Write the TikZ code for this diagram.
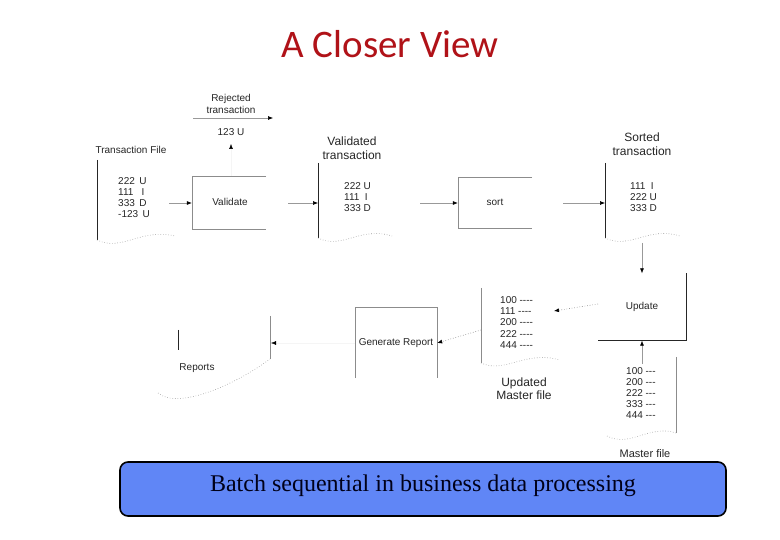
\documentclass[tikz,border=0pt]{standalone}
\usepackage{fontspec}
\setmainfont{Liberation Serif}
\newfontfamily\arialf{Liberation Sans}
\newfontfamily\calibri{Carlito}
\usetikzlibrary{arrows.meta}
\definecolor{titlered}{RGB}{176,18,24}
\definecolor{bandblue}{RGB}{96,134,246}
\tikzset{
  lbl/.style={font=\arialf\fontsize{10}{11}\selectfont, inner sep=0pt, text=black!85},
  biglbl/.style={font=\arialf\fontsize{12}{13.5}\selectfont, inner sep=0pt, align=center, text=black!85},
  datatxt/.style={font=\arialf\fontsize{10}{11.2}\selectfont, inner sep=0pt, align=left, anchor=west, text=black!85},
  boxarea/.style={inner sep=0pt, draw=none},
  edge/.style={draw=black!45, line width=0.6pt},
  darkedge/.style={draw=black!85, line width=0.9pt},
  wave/.style={draw=black!40, line width=0.6pt, dotted},
  arr/.style={draw=black!40, line width=0.6pt, -{Latex[length=5pt,width=4pt,black]}},
  ghostarr/.style={draw=black!4, line width=0.5pt, -{Latex[length=5pt,width=4pt,black]}},
  dotarr/.style={draw=black!50, line width=0.6pt, dotted, -{Latex[length=5pt,width=4pt,black]}}
}
\begin{document}
\begin{tikzpicture}[x=1pt,y=-1pt]
\useasboundingbox (0,0) rectangle (780,540);
\fill[white] (0,0) rectangle (780,540);

% title
\node[font=\calibri\fontsize{39}{44}\selectfont, text=titlered, inner sep=0pt] (title) at (390,44) {A Closer View};

% rejected transaction
\node[lbl, align=center, font=\arialf\fontsize{10}{12}\selectfont] (rej) at (231,104) {Rejected\\transaction};
\coordinate (rejA) at (193,118);
\coordinate (rejB) at (273,118);
\draw[arr] (rejA) -- (rejB);
\node[lbl] (rejval) at (231,132) {123 U};

% transaction file
\node[lbl] (tflabel) at (131,150) {Transaction File};
\coordinate (tfTop) at (97,160);
\coordinate (tfBot) at (97,240);
\coordinate (tfEnd) at (175,236);
\draw[darkedge] (tfTop) -- (tfBot);
\draw[wave] (tfBot) .. controls (122,252) and (140,228) .. (tfEnd);
\node[datatxt] (tfdata) at (118,197.5) {222\,\ U\\111\ \ \ I\\333\,\ D\\-123\,\ U};

% validate box
\node[boxarea, minimum width=74pt, minimum height=52pt] (validate) at (229,203) {};
\draw[edge] (validate.north east) -- (validate.north west) -- (validate.south west) -- (validate.south east);
\node[lbl] (validatetxt) at (230,202) {Validate};
\coordinate (vtop) at (231,176);
\coordinate (vup) at (231,144);
\draw[ghostarr] (vtop) -- (vup);

% transaction file -> validate
\coordinate (tfout) at (169,203);
\draw[arr] (tfout) -- (validate.west);

% validated transaction
\node[biglbl] (vtlabel) at (352,148) {Validated\\transaction};
\coordinate (vtTop) at (318,163);
\coordinate (vtBot) at (318,238);
\coordinate (vtEnd) at (392,236);
\draw[darkedge] (vtTop) -- (vtBot);
\draw[wave] (vtBot) .. controls (342,250) and (360,226) .. (vtEnd);
\node[datatxt] (vtdata) at (344,197) {222 U\\111\ \ I\\333 D};
\coordinate (vtin) at (318,203);
\coordinate (vout) at (288,203);
\draw[arr] (vout) -- (vtin);

% sort box
\node[boxarea, minimum width=74pt, minimum height=51pt] (sort) at (495,203) {};
\draw[edge] (sort.north east) -- (sort.north west) -- (sort.south west) -- (sort.south east);
\node[lbl] (sorttxt) at (495,202) {sort};
\coordinate (vtout) at (420,203);
\draw[arr] (vtout) -- (sort.west);

% sorted transaction
\node[biglbl] (stlabel) at (642,144) {Sorted\\transaction};
\coordinate (stTop) at (605,163);
\coordinate (stBot) at (605,238);
\coordinate (stEnd) at (680,236);
\draw[darkedge] (stTop) -- (stBot);
\draw[wave] (stBot) .. controls (630,250) and (648,226) .. (stEnd);
\node[datatxt] (stdata) at (630,197) {111\ \ I\\222 U\\333 D};
\coordinate (stin) at (605,203);
\coordinate (sortout) at (563,203);
\draw[arr] (sortout) -- (stin);

% update box
\node[boxarea, minimum width=88pt, minimum height=67pt] (update) at (642,307) {};
\draw[darkedge] (update.north east) -- (update.south east) -- (update.south west);
\node[lbl] (updatetxt) at (642,307) {Update};
\coordinate (stdown) at (642,243);
\draw[arr] (stdown) -- (update.north);

% master file
\coordinate (mfTop) at (676,357);
\coordinate (mfBot) at (676,433);
\coordinate (mfStart) at (607,436);
\draw[edge] (mfTop) -- (mfBot);
\draw[wave] (mfStart) .. controls (630,448) and (650,424) .. (mfBot);
\node[datatxt] (mfdata) at (626,393) {100 ---\\200 ---\\222 ---\\333 ---\\444 ---};
\node[biglbl, font=\arialf\fontsize{11}{12}\selectfont] (mflabel) at (645,454) {Master file};
\coordinate (mfout) at (642,364);
\draw[arr] (mfout) -- (update.south);

% updated master file
\coordinate (umTop) at (481,288);
\coordinate (umBot) at (481,363);
\coordinate (umEnd) at (560,360);
\draw[edge] (umTop) -- (umBot);
\draw[wave] (umBot) .. controls (505,374) and (525,350) .. (umEnd);
\node[datatxt] (umdata) at (500,322.5) {100 ----\\111 ----\\200 ----\\222 ----\\444 ----};
\node[biglbl] (umlabel) at (524,388.5) {Updated\\Master file};
\coordinate (umin) at (554,311);
\coordinate (updout) at (598,304);
\draw[dotarr] (updout) -- (umin);

% generate report
\node[boxarea, minimum width=82pt, minimum height=70pt] (gen) at (396,343) {};
\draw[edge] (gen.south west) -- (gen.north west) -- (gen.north east) -- (gen.south east);
\node[lbl] (gentxt) at (396,343) {Generate Report};
\coordinate (umout) at (481,330);
\draw[dotarr] (umout) -- (gen.east);

% reports
\coordinate (rpTop) at (270,316);
\coordinate (rpBot) at (270,359);
\coordinate (rpStart) at (158,393);
\coordinate (rpL1) at (178,330);
\coordinate (rpL2) at (178,350);
\draw[edge] (rpTop) -- (rpBot);
\draw[darkedge] (rpL1) -- (rpL2);
\draw[wave] (rpStart) .. controls (178,410) and (235,385) .. (rpBot);
\node[lbl] (rptxt) at (197,368) {Reports};
\coordinate (rpin) at (271,343);
\draw[ghostarr] (gen.west) -- (rpin);

% bottom band
\node[draw=black, line width=1.6pt, fill=bandblue, rounded corners=8pt,
      minimum width=606pt, minimum height=54pt, inner sep=0pt] (band) at (423,489) {};
\node[font=\fontsize{24}{28}\selectfont, text=black!90!blue, inner sep=0pt] (bandtxt) at (423,486) {Batch sequential in business data processing};
\end{tikzpicture}
\end{document}
